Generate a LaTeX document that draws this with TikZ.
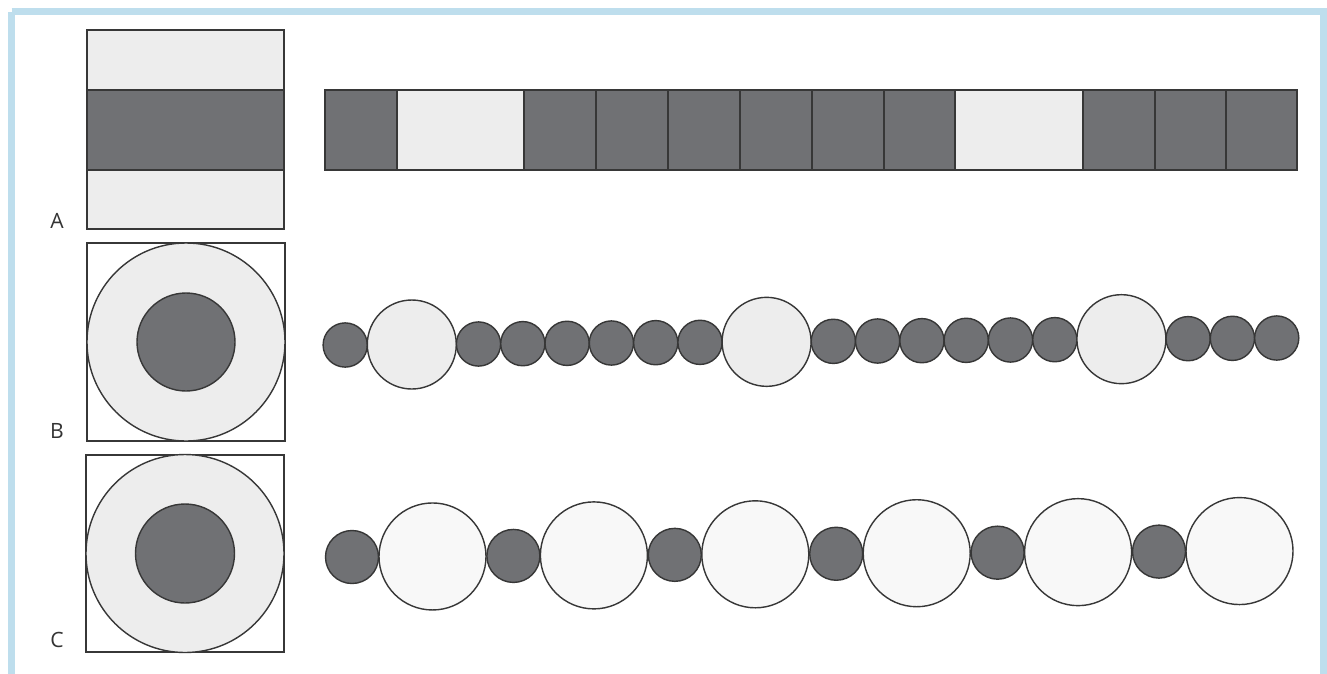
\documentclass[tikz,border=0pt]{standalone}
\usepackage{fontspec}
\setsansfont{Open Sans}
\usetikzlibrary{positioning}
\definecolor{framebl}{RGB}{190,222,237}
\definecolor{darkfill}{RGB}{112,113,116}
\definecolor{lightfill}{RGB}{237,237,237}
\definecolor{dotfill}{RGB}{248,248,248}
\definecolor{edgegray}{RGB}{55,55,55}
\tikzset{
    darkpart/.style={
        fill=darkfill,
        draw=edgegray,
        line width=0.8pt
    },
    lightpart/.style={
        fill=lightfill,
        draw=edgegray,
        line width=0.8pt
    },
    dotpart/.style={
        fill=dotfill,
        draw=edgegray,
        line width=0.8pt
    },
    plainbox/.style={
        fill=white,
        draw=edgegray,
        line width=0.8pt
    },
    rowlabel/.style={
        font=\sffamily\fontsize{12}{14}\selectfont,
        text=black!80,
        inner sep=0pt
    }
}

\begin{document}
\begin{tikzpicture}[x=0.02cm, y=-0.02cm]
\useasboundingbox (0,0) rectangle (1327,673);
\fill[white] (0,0) rectangle (1327,673);
\draw[framebl, line width=4pt] (11.5,11.5) -- (1323.5,11.5) -- (1323.5,690) (11.5,11.5) -- (11.5,690);

% row A: layer, then strip
\draw[lightpart] (87,30) rectangle (284,229);
\draw[darkpart] (87,90) rectangle (284,170);
\foreach \xa/\xb/\kind in {325/397/darkpart, 397/524/lightpart, 524/596/darkpart, 596/668/darkpart,
    668/740/darkpart, 740/812/darkpart, 812/884/darkpart, 884/955/darkpart, 955/1083/lightpart,
    1083/1155/darkpart, 1155/1226/darkpart, 1226/1297/darkpart}
    \draw[\kind] (\xa,90) rectangle (\xb,170);
\node[rowlabel] (labA) at (57,221) {A};

% row B
\draw[plainbox] (87,243) rectangle (285,441);
\draw[lightpart] (186,342) circle[radius=99];
\draw[darkpart] (186,342) circle[radius=49];
\foreach \cx/\r/\kind in {345.2/22.1/darkpart, 411.8/44.5/lightpart,
    478.5/22.1/darkpart, 522.8/22.1/darkpart, 567.1/22.1/darkpart, 611.4/22.1/darkpart, 655.7/22.1/darkpart, 700.0/22.1/darkpart,
    766.6/44.5/lightpart,
    833.3/22.1/darkpart, 877.6/22.1/darkpart, 921.9/22.1/darkpart, 966.2/22.1/darkpart, 1010.5/22.1/darkpart, 1054.8/22.1/darkpart,
    1121.4/44.5/lightpart,
    1188.1/22.1/darkpart, 1232.4/22.1/darkpart, 1276.7/22.1/darkpart}
{
    \pgfmathsetmacro\cy{345-(\cx-345)*0.0075}
    \draw[\kind] (\cx,\cy) circle[radius=\r];
}
\node[rowlabel] (labB) at (57,431) {B};

% row C
\draw[plainbox] (86,455) rectangle (284,652);
\draw[lightpart] (185,553.5) circle[radius=99];
\draw[darkpart] (185,553.5) circle[radius=49.5];
\foreach \k in {0,...,5}
{
    \pgfmathsetmacro\dx{352+161.4*\k}
    \pgfmathsetmacro\lx{432.5+161.4*\k}
    \pgfmathsetmacro\dy{557-(\dx-352)*0.0067}
    \pgfmathsetmacro\ly{557-(\lx-352)*0.0067}
    \draw[darkpart] (\dx,\dy) circle[radius=26.5];
    \draw[dotpart] (\lx,\ly) circle[radius=53.5];
}
\node[rowlabel] (labC) at (57,640) {C};
\end{tikzpicture}
\end{document}
